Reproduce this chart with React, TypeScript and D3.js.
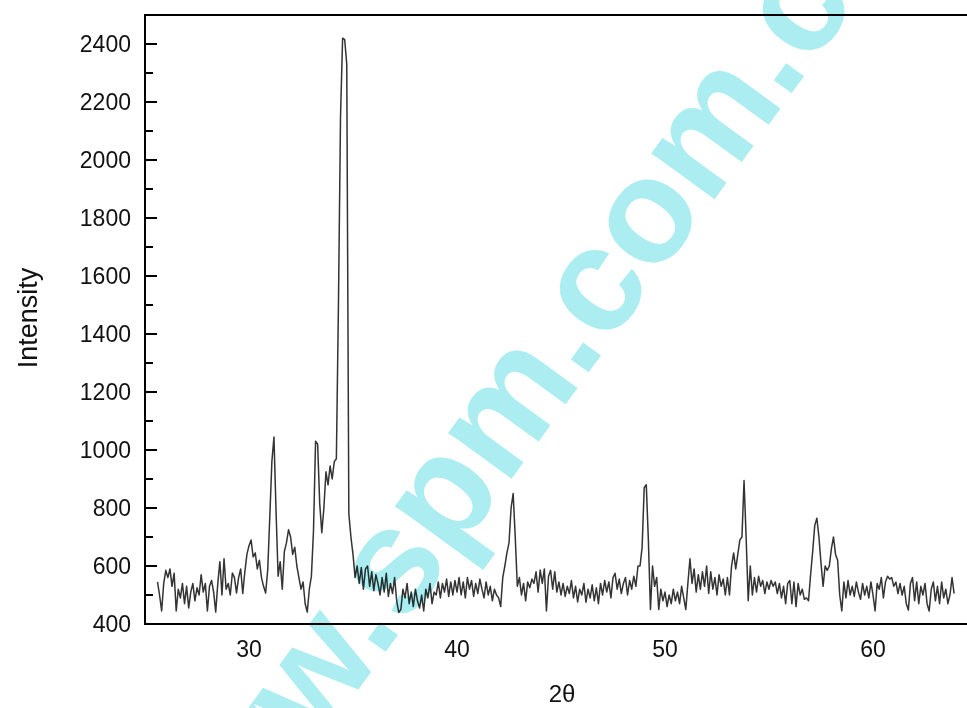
import React from 'react';
import * as d3 from 'd3';

// 2θ sampling of the pattern (degrees)
const thetaStart = 25.6;
const thetaStep = 0.1;

// Intensity, one row per degree of 2θ
const intensity: number[] = [
  545, 500, 445, 540,
  585, 560, 590, 530, 575, 445, 520, 490, 540, 470,
  530, 455, 510, 540, 480, 525, 500, 570, 510, 540,
  445, 530, 550, 510, 441, 540, 615, 500, 625, 520,
  540, 500, 576, 560, 507, 560, 590, 505, 580, 640,
  670, 690, 631, 645, 590, 620, 560, 530, 507, 586,
  770, 960, 1045, 790, 565, 615, 520, 650, 680, 725,
  700, 640, 665, 600, 560, 520, 545, 470, 441, 520,
  565, 720, 1030, 1020, 815, 715, 800, 925, 880, 945,
  900, 960, 970, 1500, 2150, 2420, 2415, 2330, 780, 700,
  640, 560, 600, 540, 595, 520, 590, 600, 530, 580,
  515, 570, 540, 500, 560, 510, 575, 495, 540, 505,
  560, 480, 440, 450, 520, 490, 540, 470, 510, 460,
  520, 480, 455, 500, 445, 520, 490, 540, 470, 510,
  500, 545, 490, 540, 510, 555, 495, 545, 500, 550,
  510, 560, 500, 545, 490, 560, 520, 550, 495, 540,
  505, 555, 520, 490, 545, 500, 530, 480, 520, 500,
  490, 460, 560, 600, 645, 680, 800, 850, 700, 530,
  560, 500, 540, 480, 545, 525, 555, 540, 580, 510,
  586, 540, 590, 445, 565, 585, 520, 580, 510, 545,
  500, 540, 495, 530, 505, 550, 490, 530, 476, 520,
  500, 540, 475, 520, 490, 535, 480, 525, 470, 540,
  500, 550, 510, 545, 490, 560, 575, 520, 555, 505,
  540, 560, 500, 550, 520, 565, 530, 600, 600, 665,
  870, 880, 690, 450, 600, 530, 560, 450, 520, 480,
  510, 460, 500, 470, 520, 480, 510, 470, 530, 490,
  450, 540, 625, 540, 590, 510, 570, 520, 580, 530,
  600, 505, 580, 520, 560, 500, 570, 530, 555, 500,
  560, 500, 600, 645, 590, 640, 690, 700, 895, 700,
  480, 600, 500, 560, 510, 565, 530, 550, 505, 545,
  520, 550, 530, 545, 505, 540, 490, 530, 470, 540,
  550, 470, 545, 460, 540, 500, 520, 485, 490, 480,
  570, 650, 740, 765, 700, 610, 530, 600, 585, 600,
  660, 700, 640, 620, 500, 445, 545, 490, 550, 500,
  530, 495, 545, 510, 485, 540, 500, 530, 490, 545,
  500, 445, 540, 520, 560, 490, 545, 565, 555, 560,
  530, 545, 505, 540, 500, 530, 470, 448, 540, 560,
  480, 545, 470, 530, 500, 540, 470, 445, 520, 545,
  480, 530, 470, 545, 490, 520, 470, 500, 560, 505,
];

const yMajorTicks = [400, 600, 800, 1000, 1200, 1400, 1600, 1800, 2000, 2200, 2400];
const yMinorTicks = [500, 700, 900, 1100, 1300, 1500, 1700, 1900, 2100, 2300];
const xTicks = [30, 40, 50, 60];
const xLabel = '2θ';
const yLabel = 'Intensity';
const watermark = 'www.spm.com.cn';

export default function App() {
  const W = 967;
  const H = 708;
  const left = 145;
  const top = 15;
  const bottom = 624;
  const x = d3.scaleLinear().domain([25, 65]).range([left, left + 40 * 20.8]);
  const y = d3.scaleLinear().domain([400, 2500]).range([bottom, top]);

  const pts: [number, number][] = intensity.map((v, i) => [thetaStart + i * thetaStep, v]);
  const line = d3
    .line<[number, number]>()
    .x((d) => x(d[0]))
    .y((d) => y(d[1]));

  const font = '"Liberation Sans", Arial, sans-serif';
  const right = x(65);

  return (
    <svg
      width={W}
      height={H}
      style={{ position: 'absolute', left: 0, top: 0, background: '#fff' }}
    >
      <rect x={0} y={0} width={W} height={H} fill="#fff" />
      {/* frame */}
      <path
        d={`M${left},${top}H${right}V${bottom}H${left}Z`}
        fill="none"
        stroke="#000"
        strokeWidth={2}
      />
      {/* y ticks */}
      {yMajorTicks.map((t) => (
        <g key={'ym' + t}>
          <line x1={left} x2={left + 12} y1={y(t)} y2={y(t)} stroke="#000" strokeWidth={2} />
          <text
            x={131}
            y={y(t)}
            dy="0.35em"
            textAnchor="end"
            fontFamily={font}
            fontSize={23}
            fill="#111"
          >
            {t}
          </text>
        </g>
      ))}
      {yMinorTicks.map((t) => (
        <line key={'yn' + t} x1={left} x2={left + 8} y1={y(t)} y2={y(t)} stroke="#000" strokeWidth={2} />
      ))}
      {/* x tick labels */}
      {xTicks.map((t) => (
        <text
          key={'x' + t}
          x={x(t)}
          y={657}
          textAnchor="middle"
          fontFamily={font}
          fontSize={23}
          fill="#111"
        >
          {t}
        </text>
      ))}
      <text x={562} y={702} textAnchor="middle" fontFamily={font} fontSize={24} fill="#111">
        {xLabel}
      </text>
      <text
        transform={`translate(37,318) rotate(-90)`}
        textAnchor="middle"
        fontFamily={font}
        fontSize={27}
        fill="#111"
      >
        {yLabel}
      </text>
      {/* data */}
      <path d={line(pts) || ''} fill="none" stroke="#333" strokeWidth={1.5} strokeLinejoin="round" />
      {/* watermark */}
      <text
        transform="translate(180,935) rotate(-54)"
        fontFamily={font}
        fontSize={148}
        fontWeight="bold"
        fill="#abedf0"
        style={{ mixBlendMode: 'multiply' }}
      >
        {watermark}
      </text>
    </svg>
  );
}
